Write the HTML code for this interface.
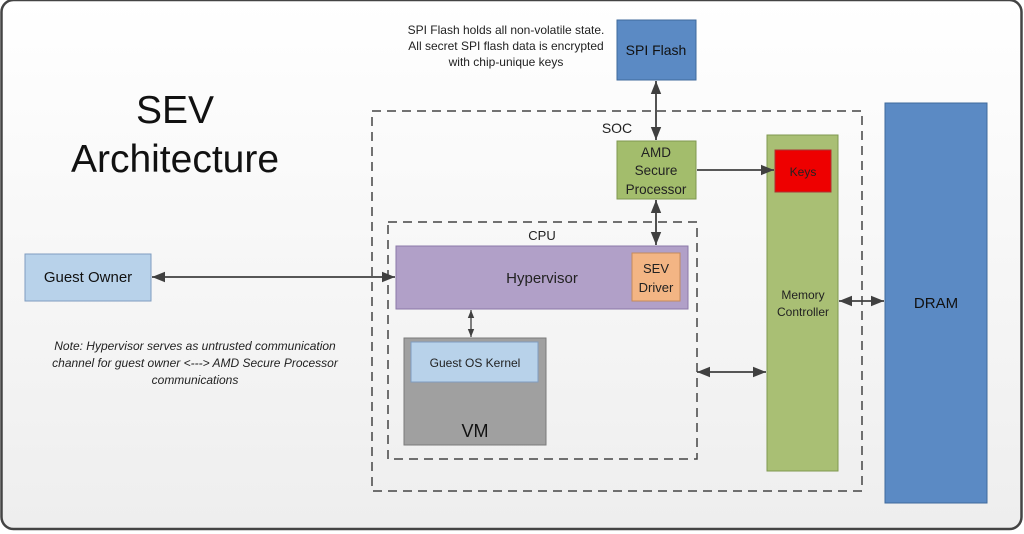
<!DOCTYPE html>
<html><head><meta charset="utf-8"><style>
html,body{margin:0;padding:0;background:#fff;}
svg{display:block;font-family:"Liberation Sans",sans-serif;}
</style></head><body>
<svg width="1024" height="534" viewBox="0 0 1024 534" xmlns="http://www.w3.org/2000/svg">
<defs>
<linearGradient id="bg" x1="0" y1="0" x2="0" y2="1"><stop offset="0" stop-color="#ffffff"/><stop offset="1" stop-color="#eeeeee"/></linearGradient>
<marker id="ah" viewBox="0 0 10 10" refX="10" refY="5" markerWidth="13" markerHeight="13" orient="auto-start-reverse" markerUnits="userSpaceOnUse"><path d="M0,1 L10,5 L0,9 z" fill="#404040"/></marker>
<marker id="ahs" viewBox="0 0 10 10" refX="10" refY="5" markerWidth="8" markerHeight="8" orient="auto-start-reverse" markerUnits="userSpaceOnUse"><path d="M0,1 L10,5 L0,9 z" fill="#404040"/></marker>
</defs>
<rect width="1024" height="534" fill="#ffffff"/>
<rect x="1.5" y="0" width="1020" height="529" rx="12" fill="url(#bg)" stroke="#444" stroke-width="2.5"/>

<text x="175" y="123" font-size="39" text-anchor="middle" fill="#111">SEV</text>
<text x="175" y="172" font-size="39" text-anchor="middle" fill="#111">Architecture</text>

<g font-size="12" fill="#222" text-anchor="middle">
<text x="506" y="34">SPI Flash holds all non-volatile state.</text>
<text x="506" y="50">All secret SPI flash data is encrypted</text>
<text x="506" y="66">with chip-unique keys</text>
</g>

<rect x="372" y="111" width="490" height="380" fill="none" stroke="#444" stroke-width="1.5" stroke-dasharray="9,6"/>
<rect x="388" y="222" width="309" height="237" fill="none" stroke="#444" stroke-width="1.5" stroke-dasharray="9,6"/>
<text x="617" y="133" font-size="14" text-anchor="middle" fill="#222">SOC</text>
<text x="542" y="240" font-size="13" text-anchor="middle" fill="#222">CPU</text>

<rect x="617" y="20" width="79" height="60" fill="#5b8ac4" stroke="#3f6a9c"/>
<text x="656" y="55" font-size="14" text-anchor="middle" fill="#111">SPI Flash</text>

<rect x="617" y="141" width="79" height="58" fill="#a3bd6c" stroke="#7f9850"/>
<g font-size="13.5" text-anchor="middle" fill="#222">
<text x="656" y="157">AMD</text><text x="656" y="175">Secure</text><text x="656" y="194">Processor</text></g>

<rect x="767" y="135" width="71" height="336" fill="#a9bf74" stroke="#7f9850"/>
<rect x="775" y="150" width="56" height="42" fill="#ee0000" stroke="#a33"/>
<text x="803" y="176" font-size="12" text-anchor="middle" fill="#222">Keys</text>
<text x="803" y="299" font-size="12" text-anchor="middle" fill="#222">Memory</text>
<text x="803" y="316" font-size="12" text-anchor="middle" fill="#222">Controller</text>

<rect x="885" y="103" width="102" height="400" fill="#5b8ac4" stroke="#3f6a9c"/>
<text x="936" y="308" font-size="15" text-anchor="middle" fill="#111">DRAM</text>

<rect x="396" y="246" width="292" height="63" fill="#b1a0c8" stroke="#8a78a8"/>
<text x="542" y="283" font-size="15" text-anchor="middle" fill="#222">Hypervisor</text>
<rect x="632" y="253" width="48" height="48" fill="#f3b584" stroke="#c48a5c"/>
<text x="656" y="273" font-size="13" text-anchor="middle" fill="#222">SEV</text>
<text x="656" y="292" font-size="13" text-anchor="middle" fill="#222">Driver</text>

<rect x="404" y="338" width="142" height="107" fill="#a0a0a0" stroke="#7a7a7a"/>
<rect x="411" y="342" width="127" height="40" fill="#b8d2ea" stroke="#7f9cc0"/>
<text x="475" y="367" font-size="12" text-anchor="middle" fill="#222">Guest OS Kernel</text>
<text x="475" y="437" font-size="18" text-anchor="middle" fill="#111">VM</text>

<rect x="25" y="254" width="126" height="47" fill="#b8d2ea" stroke="#7f9cc0"/>
<text x="88" y="282" font-size="15" text-anchor="middle" fill="#111">Guest Owner</text>

<g font-size="12" font-style="italic" fill="#222" text-anchor="middle">
<text x="195" y="350">Note: Hypervisor serves as untrusted communication</text>
<text x="195" y="367">channel for guest owner &lt;---&gt; AMD Secure Processor</text>
<text x="195" y="384">communications</text>
</g>

<g stroke="#404040" stroke-width="1.8" fill="none">
<line x1="152" y1="277" x2="395" y2="277" marker-start="url(#ah)" marker-end="url(#ah)"/>
<line x1="656" y1="81" x2="656" y2="140" marker-start="url(#ah)" marker-end="url(#ah)"/>
<line x1="656" y1="200" x2="656" y2="245" marker-start="url(#ah)" marker-end="url(#ah)"/>
<line x1="697" y1="170" x2="774" y2="170" marker-end="url(#ah)"/>
<line x1="471" y1="310" x2="471" y2="337" stroke-width="1.3" marker-start="url(#ahs)" marker-end="url(#ahs)"/>
<line x1="697" y1="372" x2="766" y2="372" marker-start="url(#ah)" marker-end="url(#ah)"/>
<line x1="839" y1="301" x2="884" y2="301" marker-start="url(#ah)" marker-end="url(#ah)"/>
</g>
</svg>
</body></html>
